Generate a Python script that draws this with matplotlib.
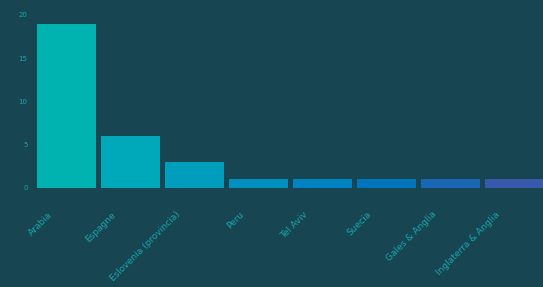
import matplotlib
matplotlib.use('Agg')
import matplotlib.pyplot as plt
import matplotlib.transforms as mtransforms

categories = ['Arabia', 'Espagne', 'Eslovenia (provincia)', 'Peru', 'Tel Aviv',
              'Suecia', 'Gales & Anglia', 'Inglaterra & Anglia']
values = [19, 6, 3, 1, 1, 1, 1, 1]
colors = ['#00b3b1', '#00a9b9', '#009ebc', '#0090c0', '#0083c1',
          '#0075bc', '#1866b4', '#3858ab']
yticks = [0, 5, 10, 15, 20]

bg = '#174652'
text_color = '#17a6ae'

fig = plt.figure(figsize=(5.43, 2.87), dpi=100)
fig.patch.set_facecolor(bg)
ax = fig.add_axes([0.066, 0.345, 0.936, 0.603])
ax.set_facecolor(bg)

x = list(range(len(categories)))
ax.bar(x, values, width=0.92, color=colors)

ax.set_xlim(-0.48, 7.46)
ax.set_ylim(0, 20)
ax.set_yticks(yticks)
ax.set_yticklabels([str(t) for t in yticks], fontsize=5, color=text_color)
ax.set_xticks([])
ax.tick_params(length=0, pad=6)
for s in ax.spines.values():
    s.set_visible(False)

# rotated category labels, shifted left/down like the reference
lbl_tr = ax.get_xaxis_transform() + mtransforms.ScaledTranslation(-0.13, -0.22, fig.dpi_scale_trans)
for i, c in zip(x, categories):
    ax.text(i, 0, c, transform=lbl_tr, rotation=45, ha='right', va='top',
            fontsize=6.5, color=text_color)

fig.savefig('out.png', dpi=100, facecolor=bg)
